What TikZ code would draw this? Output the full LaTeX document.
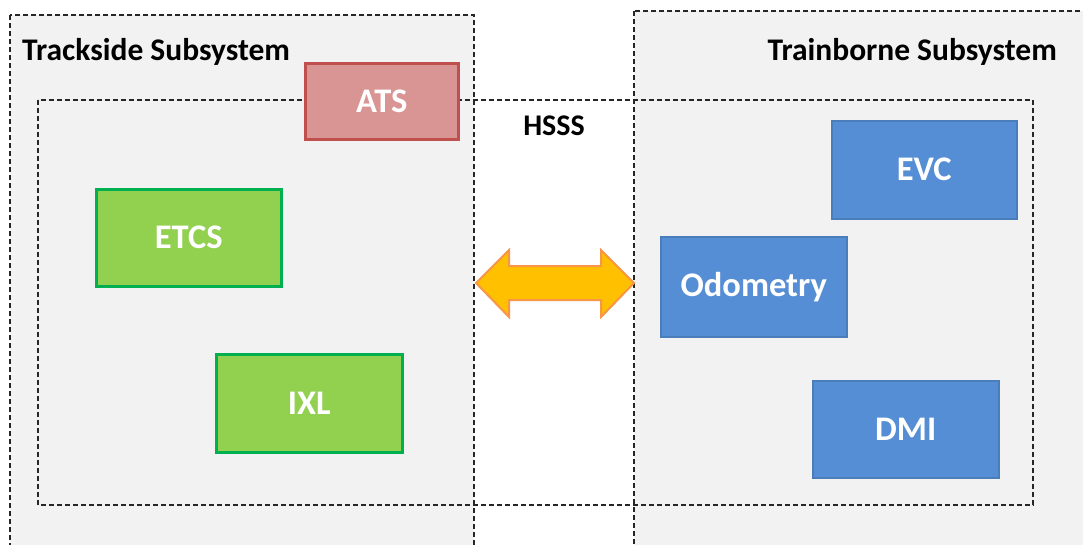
\documentclass[tikz,border=0pt]{standalone}
\usepackage{fontspec}
\setmainfont{Carlito}
\definecolor{panel}{HTML}{F2F2F2}
\definecolor{atsfill}{HTML}{D99594}
\definecolor{atsline}{HTML}{C0504D}
\definecolor{grnfill}{HTML}{92D050}
\definecolor{grnline}{HTML}{00B050}
\definecolor{blufill}{HTML}{558ED5}
\definecolor{bluline}{HTML}{4A7EBB}
\definecolor{arrfill}{HTML}{FFC000}
\definecolor{arrline}{HTML}{F79646}
\definecolor{dashc}{HTML}{262626}
\tikzset{
  sysbox/.style={fill=panel, draw=dashc, line width=1.2pt, dash pattern=on 5pt off 3pt},
  hsssbox/.style={draw=dashc, line width=1.2pt, dash pattern=on 5pt off 3pt},
  title/.style={font=\bfseries\fontsize{31.5}{36}\selectfont, text=black, inner sep=0pt},
  blk/.style={font=\bfseries\fontsize{34.5}{40}\selectfont, text=white, inner sep=0pt, anchor=north west},
  atsbox/.style={blk, fill=atsfill, draw=atsline, line width=2.5pt},
  grnbox/.style={blk, fill=grnfill, draw=grnline, line width=2.5pt},
  blubox/.style={blk, fill=blufill, draw=bluline, line width=1.5pt},
}
\begin{document}
\begin{tikzpicture}[x=1pt,y=-1pt]
\useasboundingbox (0,0) rectangle (1083,544);
\clip (0,0) rectangle (1083,544);
\fill[white] (0,0) rectangle (1083,544);
% subsystem panels
\path[sysbox] (10,15) rectangle (474,560);
\path[sysbox] (634,11) rectangle (1100,560);
% HSSS dashed frame
\path[hsssbox] (38,100) rectangle (1033,505);
% titles
\node[title, anchor=west] (tt) at (22,52) {Trackside Subsystem};
\node[title, anchor=east] (tb) at (1057,52) {Trainborne Subsystem};
\node[title, font=\bfseries\fontsize{30}{34}\selectfont] (hs) at (554,126) {HSSS};
% blocks
\node[atsbox, minimum width=153pt, minimum height=76pt] (ats) at (304,62) {ATS};
\node[grnbox, minimum width=185pt, minimum height=97pt] (etcs) at (95,188) {ETCS};
\node[grnbox, minimum width=186pt, minimum height=98pt] (ixl) at (215,353) {IXL};
\node[blubox, minimum width=185pt, minimum height=98pt] (evc) at (831,120) {EVC};
\node[blubox, minimum width=186pt, minimum height=100pt] (odo) at (660,236) {Odometry};
\node[blubox, minimum width=186pt, minimum height=97pt] (dmi) at (812,380) {DMI};
% double arrow
\draw[fill=arrfill, draw=arrline, line width=2pt, line join=miter]
  (476,283) -- (509,250) -- (509,266) -- (601,266) -- (601,250) -- (634,283)
  -- (601,317) -- (601,300) -- (509,300) -- (509,317) -- cycle;
\end{tikzpicture}
\end{document}
